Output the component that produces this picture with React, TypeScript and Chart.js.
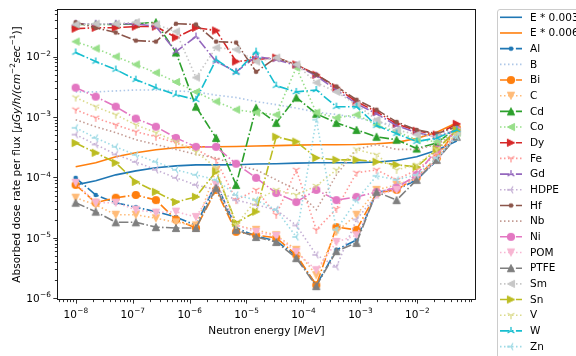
import React, { useEffect, useRef } from 'react';
import { Chart, registerables } from 'chart.js';
Chart.register(...registerables);

// ---- data ----
const energies = [1.0e-8, 2.25e-8, 5.07e-8, 1.14e-7, 2.57e-7, 5.78e-7, 1.3e-6, 2.93e-6, 6.59e-6, 1.48e-5, 3.34e-5, 7.52e-5, 1.69e-4, 3.81e-4, 8.59e-4, 1.93e-3, 4.35e-3, 9.8e-3, 2.21e-2, 4.96e-2];

const seriesNames = ['E * 0.003', 'E * 0.006', 'Al', 'B', 'Bi', 'C', 'Cd', 'Co', 'Dy', 'Fe', 'Gd', 'HDPE', 'Hf', 'Nb', 'Ni', 'POM', 'PTFE', 'Sm', 'Sn', 'V', 'W', 'Zn'];

const e003 = [7.5e-5, 8.8e-5, 1.1e-4, 1.28e-4, 1.44e-4, 1.55e-4, 1.61e-4, 1.61e-4, 1.62e-4, 1.66e-4, 1.68e-4, 1.72e-4, 1.74e-4, 1.74e-4, 1.75e-4, 1.8e-4, 1.9e-4, 2.2e-4, 2.8e-4, 4.0e-4];
const e006 = [1.5e-4, 1.75e-4, 2.2e-4, 2.55e-4, 2.87e-4, 3.1e-4, 3.2e-4, 3.22e-4, 3.25e-4, 3.3e-4, 3.35e-4, 3.42e-4, 3.46e-4, 3.47e-4, 3.5e-4, 3.6e-4, 3.8e-4, 4.4e-4, 5.6e-4, 8.0e-4];
const al = [9.8e-5, 5.1e-5, 3.8e-5, 3.2e-5, 2.7e-5, 2.2e-5, 1.6e-5, 8.1e-5, 1.45e-5, 1.07e-5, 8.8e-6, 5.0e-6, 1.64e-6, 6.3e-6, 9.2e-6, 5.7e-5, 6.2e-5, 9.1e-5, 1.9e-4, 5.1e-4];
const b = [2.6e-3, 2.6e-3, 2.7e-3, 2.8e-3, 2.8e-3, 2.7e-3, 2.6e-3, 2.3e-3, 2.1e-3, 1.8e-3, 1.6e-3, 1.4e-3, 1.2e-3, 1.1e-3, 9.7e-4, 8.3e-4, 7.2e-4, 5.9e-4, 5.1e-4, 6.6e-4];
const bi = [7.5e-5, 3.8e-5, 4.6e-5, 5.1e-5, 4.2e-5, 2.0e-5, 1.45e-5, 6.2e-5, 1.25e-5, 1.1e-5, 1.0e-5, 5.2e-6, 1.64e-6, 1.5e-5, 1.35e-5, 5.5e-5, 6.2e-5, 1.0e-4, 2.1e-4, 6.6e-4];
const c = [4.6e-5, 3.5e-5, 2.4e-5, 2.4e-5, 2.1e-5, 1.8e-5, 1.6e-5, 1.3e-4, 1.6e-5, 1.35e-5, 1.1e-5, 6.3e-6, 2.4e-6, 1.25e-5, 2.4e-5, 6.2e-5, 7.5e-5, 9.8e-5, 1.95e-4, 5.5e-4];
const cd = [3.4e-2, 3.4e-2, 3.4e-2, 3.5e-2, 3.7e-2, 1.17e-2, 1.48e-3, 4.5e-4, 7.5e-5, 1.42e-3, 8.0e-4, 2.1e-3, 1.13e-3, 8.0e-4, 6.1e-4, 4.7e-4, 4.2e-4, 3.0e-4, 3.7e-4, 6.6e-4];
const co = [1.77e-2, 1.36e-2, 1.0e-2, 7.4e-3, 5.4e-3, 3.8e-3, 2.6e-3, 1.8e-3, 1.32e-3, 1.18e-3, 1.09e-3, 6.6e-3, 1.18e-3, 9.7e-4, 1.09e-3, 7.4e-4, 5.7e-4, 4.2e-4, 3.9e-4, 5.5e-4];
const dy = [2.9e-2, 3.0e-2, 3.0e-2, 3.15e-2, 3.15e-2, 2.07e-2, 3.0e-2, 2.7e-2, 8.3e-3, 8.9e-3, 9.6e-3, 7.4e-3, 5.0e-3, 3.06e-3, 1.79e-3, 1.22e-3, 7.7e-4, 5.9e-4, 5.1e-4, 7.7e-4];
const fe = [1.32e-3, 9.7e-4, 7.4e-4, 5.7e-4, 4.7e-4, 3.7e-4, 2.9e-4, 1.95e-4, 4.2e-5, 6.2e-5, 2.4e-5, 1.33e-4, 1.35e-5, 3.0e-5, 1.19e-4, 1.33e-4, 9.1e-5, 1.33e-4, 2.4e-4, 5.1e-4];
const gd = [3.5e-2, 3.5e-2, 3.5e-2, 3.5e-2, 3.15e-2, 1.21e-2, 2.15e-2, 8.3e-3, 5.6e-3, 1.0e-2, 8.9e-3, 7.1e-3, 4.8e-3, 2.8e-3, 1.66e-3, 1.13e-3, 7.2e-4, 5.5e-4, 4.7e-4, 6.1e-4];
const hdpe = [5.1e-4, 3.5e-4, 2.4e-4, 1.8e-4, 1.33e-4, 9.8e-5, 7.5e-5, 6.2e-5, 4.2e-5, 3.5e-5, 2.9e-5, 1.6e-5, 5.2e-6, 3.3e-6, 2.0e-5, 5.1e-5, 7.5e-5, 9.8e-5, 1.95e-4, 4.7e-4];
const hf = [3.7e-2, 3.0e-2, 2.5e-2, 1.84e-2, 1.77e-2, 3.5e-2, 3.4e-2, 1.77e-2, 1.71e-2, 5.6e-3, 9.6e-3, 7.4e-3, 5.0e-3, 3.2e-3, 1.93e-3, 1.32e-3, 8.3e-4, 6.1e-4, 5.3e-4, 6.9e-4];
const nb = [9.0e-4, 6.9e-4, 5.5e-4, 4.2e-4, 3.5e-4, 2.9e-4, 2.4e-4, 2.1e-4, 1.6e-4, 1.33e-4, 9.1e-5, 6.2e-5, 2.9e-5, 1.1e-4, 2.9e-4, 3.5e-4, 2.9e-4, 2.9e-4, 3.5e-4, 5.5e-4];
const ni = [3.06e-3, 2.17e-3, 1.48e-3, 9.4e-4, 6.9e-4, 4.5e-4, 3.2e-4, 3.2e-4, 1.68e-4, 9.8e-5, 5.5e-5, 3.9e-5, 6.2e-5, 4.2e-5, 4.75e-5, 5.7e-5, 6.7e-5, 1.1e-4, 2.9e-4, 6.1e-4];
const pom = [8.1e-5, 3.8e-5, 3.8e-5, 2.9e-5, 2.6e-5, 2.7e-5, 2.2e-5, 7.5e-5, 1.63e-5, 1.25e-5, 1.07e-5, 5.8e-6, 2.9e-6, 8.5e-6, 1.1e-5, 5.1e-5, 6.2e-5, 9.8e-5, 1.95e-4, 5.1e-4];
const ptfe = [3.8e-5, 2.7e-5, 1.8e-5, 1.8e-5, 1.5e-5, 1.45e-5, 1.45e-5, 6.7e-5, 1.35e-5, 1.03e-5, 8.5e-6, 4.6e-6, 1.58e-6, 6.0e-6, 8.2e-6, 5.75e-5, 4.2e-5, 9.1e-5, 1.95e-4, 4.7e-4];
const sm = [3.4e-2, 3.5e-2, 3.5e-2, 3.7e-2, 3.4e-2, 2.6e-2, 4.5e-3, 1.41e-2, 1.31e-2, 8.3e-3, 9.6e-3, 7.4e-3, 3.7e-3, 2.6e-3, 1.6e-3, 9.0e-4, 6.1e-4, 5.1e-4, 4.7e-4, 5.7e-4];
const sn = [3.7e-4, 2.55e-4, 1.74e-4, 8.4e-5, 5.75e-5, 3.9e-5, 4.75e-5, 1.25e-4, 1.76e-5, 2.7e-5, 4.7e-4, 3.9e-4, 2.1e-4, 1.95e-4, 1.95e-4, 1.81e-4, 1.61e-4, 1.49e-4, 2.9e-4, 6.1e-4];
const v = [2.1e-3, 1.48e-3, 1.09e-3, 7.4e-4, 5.5e-4, 3.9e-4, 2.65e-4, 1.44e-4, 1.63e-5, 4.2e-5, 6.2e-5, 5.1e-5, 7.2e-5, 1.33e-4, 2.9e-4, 2.36e-4, 1.33e-4, 1.61e-4, 2.9e-4, 5.1e-4];
const w = [1.17e-2, 8.3e-3, 6.1e-3, 4.15e-3, 3.06e-3, 2.34e-3, 1.93e-3, 8.9e-3, 5.4e-3, 1.21e-2, 3.3e-3, 2.6e-3, 2.8e-3, 1.48e-3, 1.48e-3, 7.2e-4, 5.3e-4, 3.9e-4, 4.5e-4, 6.1e-4];
const zn = [6.6e-4, 4.5e-4, 3.2e-4, 2.36e-4, 1.81e-4, 1.33e-4, 1.1e-4, 9.1e-5, 5.1e-5, 4.2e-5, 2.9e-5, 1.03e-5, 9.0e-4, 1.35e-5, 4.2e-5, 1.06e-4, 9.1e-5, 1.1e-4, 2.1e-4, 4.7e-4];

const seriesValues = [e003, e006, al, b, bi, c, cd, co, dy, fe, gd, hdpe, hf, nb, ni, pom, ptfe, sm, sn, v, w, zn];

const xTickExps = [-8, -7, -6, -5, -4, -3, -2];
const yTickExps = [-6, -5, -4, -3, -2];

// ---- styles ----
const SOLID: number[] = [];
const DASHDOT = [9.6, 2.4, 1.5, 2.4];
const DOTTED = [1.5, 2.5];
const styles: { color: string; marker: string; dash: number[] }[] = [
  { color: '#1f77b4', marker: 'none', dash: SOLID },
  { color: '#ff7f0e', marker: 'none', dash: SOLID },
  { color: '#1f77b4', marker: '.', dash: DASHDOT },
  { color: '#aec7e8', marker: 'none', dash: DOTTED },
  { color: '#ff7f0e', marker: 'o', dash: DASHDOT },
  { color: '#ffbb78', marker: 'v', dash: DOTTED },
  { color: '#2ca02c', marker: '^', dash: DASHDOT },
  { color: '#98df8a', marker: '<', dash: DOTTED },
  { color: '#d62728', marker: '>', dash: DASHDOT },
  { color: '#ff9896', marker: '1', dash: DOTTED },
  { color: '#9467bd', marker: '2', dash: DASHDOT },
  { color: '#c5b0d5', marker: '3', dash: DOTTED },
  { color: '#8c564b', marker: '.', dash: DASHDOT },
  { color: '#c49c94', marker: 'none', dash: DOTTED },
  { color: '#e377c2', marker: 'o', dash: DASHDOT },
  { color: '#f7b6d2', marker: 'v', dash: DOTTED },
  { color: '#7f7f7f', marker: '^', dash: DASHDOT },
  { color: '#c7c7c7', marker: '<', dash: DOTTED },
  { color: '#bcbd22', marker: '>', dash: DASHDOT },
  { color: '#dbdb8d', marker: '1', dash: DOTTED },
  { color: '#17becf', marker: '2', dash: DASHDOT },
  { color: '#9edae5', marker: '3', dash: DOTTED },
];

const FONT = '"DejaVu Sans", "Liberation Sans", sans-serif';
const FS = 10.5;

function makeMarker(kind: string, color: string): HTMLCanvasElement | null {
  if (kind === 'none') return null;
  const S = 12;
  const cv = document.createElement('canvas');
  cv.width = S;
  cv.height = S;
  const g = cv.getContext('2d')!;
  const cx = S / 2, cy = S / 2;
  g.fillStyle = color;
  g.strokeStyle = color;
  g.lineWidth = 1;
  const poly = (pts: number[][]) => {
    g.beginPath();
    g.moveTo(cx + pts[0][0], cy + pts[0][1]);
    for (let i = 1; i < pts.length; i++) g.lineTo(cx + pts[i][0], cy + pts[i][1]);
    g.closePath();
    g.fill();
    g.stroke();
  };
  const spokes = (pts: number[][]) => {
    g.lineWidth = 1.3;
    g.beginPath();
    for (const p of pts) {
      g.moveTo(cx, cy);
      g.lineTo(cx + p[0], cy + p[1]);
    }
    g.stroke();
  };
  const r = 3.6;
  const t = 4.0;
  switch (kind) {
    case '.':
      g.beginPath(); g.arc(cx, cy, 2.3, 0, Math.PI * 2); g.fill(); break;
    case 'o':
      g.beginPath(); g.arc(cx, cy, 4.1, 0, Math.PI * 2); g.fill(); break;
    case '^': poly([[0, -r], [-r, r], [r, r]]); break;
    case 'v': poly([[0, r], [-r, -r], [r, -r]]); break;
    case '<': poly([[-r, 0], [r, -r], [r, r]]); break;
    case '>': poly([[r, 0], [-r, -r], [-r, r]]); break;
    case '1': spokes([[0, t], [-0.866 * t, -0.5 * t], [0.866 * t, -0.5 * t]]); break;
    case '2': spokes([[0, -t], [-0.866 * t, 0.5 * t], [0.866 * t, 0.5 * t]]); break;
    case '3': spokes([[-t, 0], [0.5 * t, -0.866 * t], [0.5 * t, 0.866 * t]]); break;
  }
  return cv;
}

function drawPow(ctx: CanvasRenderingContext2D, exp: number, x: number, base: number, align: 'center' | 'right') {
  const main = '10';
  const sup = '\u2212' + String(Math.abs(exp));
  ctx.font = `${FS}px ${FONT}`;
  const w1 = ctx.measureText(main).width;
  ctx.font = `${FS * 0.7}px ${FONT}`;
  const w2 = ctx.measureText(sup).width;
  const total = w1 + w2;
  const x0 = align === 'center' ? x - total / 2 : x - total;
  ctx.textAlign = 'left';
  ctx.textBaseline = 'alphabetic';
  ctx.font = `${FS}px ${FONT}`;
  ctx.fillText(main, x0, base);
  ctx.font = `${FS * 0.7}px ${FONT}`;
  ctx.fillText(sup, x0 + w1 + 0.3, base - 4.6);
}

type Seg = { t: string; it?: boolean; sup?: boolean };
function drawSegs(ctx: CanvasRenderingContext2D, segs: Seg[], cx: number, base: number) {
  const fontOf = (s: Seg) => `${s.it ? 'italic ' : ''}${s.sup ? FS * 0.7 : FS}px ${FONT}`;
  let total = 0;
  const ws = segs.map((s) => {
    ctx.font = fontOf(s);
    const wd = ctx.measureText(s.t).width;
    total += wd;
    return wd;
  });
  let x = cx - total / 2;
  ctx.textAlign = 'left';
  ctx.textBaseline = 'alphabetic';
  segs.forEach((s, i) => {
    ctx.font = fontOf(s);
    ctx.fillText(s.t, x, s.sup ? base - 4.6 : base);
    x += ws[i];
  });
}

const ySegs: Seg[] = [
  { t: 'Absorbed dose rate per flux [' },
  { t: '\u03bcGy/h/(cm', it: true },
  { t: '\u22122', sup: true },
  { t: 'sec', it: true },
  { t: '\u22121', sup: true },
  { t: ')]' },
];
const xSegs: Seg[] = [{ t: 'Neutron energy [' }, { t: 'MeV', it: true }, { t: ']' }];

export default function App() {
  const ref = useRef<HTMLCanvasElement>(null);
  useEffect(() => {
    const markers = styles.map((s) => makeMarker(s.marker, s.color));
    const n = seriesNames.length;
    const datasets = seriesNames.map((name, idx) => ({
      label: name,
      data: seriesValues[idx].map((val, i) => ({ x: energies[i], y: val })),
      borderColor: styles[idx].color,
      backgroundColor: styles[idx].color,
      borderWidth: 1.6,
      borderDash: styles[idx].dash,
      pointStyle: (markers[idx] || 'circle') as any,
      pointRadius: markers[idx] ? 3 : 0,
      pointHoverRadius: 0,
      fill: false,
      tension: 0,
      order: n - idx,
    }));

    const mplPlugin = {
      id: 'mplAxes',
      afterDraw(chart: any) {
        const { ctx, chartArea: a, scales } = chart;
        const xs = scales.x, ys = scales.y;
        ctx.save();
        ctx.fillStyle = '#000';
        ctx.strokeStyle = '#000';
        // frame
        ctx.lineWidth = 0.9;
        ctx.strokeRect(a.left + 0.5, a.top + 0.5, a.right - a.left - 1, a.bottom - a.top - 1);
        // ticks
        ctx.lineWidth = 0.8;
        ctx.beginPath();
        for (let e = -9; e <= -1; e++) {
          for (let m = 1; m <= 9; m++) {
            const val = m * Math.pow(10, e);
            const px = xs.getPixelForValue(val);
            if (px < a.left || px > a.right) continue;
            if (m === 1 && !xTickExps.includes(e)) continue;
            const len = m === 1 ? 3.7 : 2.1;
            ctx.moveTo(Math.round(px) + 0.5, a.bottom);
            ctx.lineTo(Math.round(px) + 0.5, a.bottom + len);
          }
        }
        for (let e = -7; e <= -1; e++) {
          for (let m = 1; m <= 9; m++) {
            const val = m * Math.pow(10, e);
            const py = ys.getPixelForValue(val);
            if (py < a.top || py > a.bottom) continue;
            const len = m === 1 ? 3.7 : 2.1;
            ctx.moveTo(a.left, Math.round(py) + 0.5);
            ctx.lineTo(a.left - len, Math.round(py) + 0.5);
          }
        }
        ctx.stroke();
        // tick labels
        for (const e of xTickExps) {
          const px = xs.getPixelForValue(Math.pow(10, e));
          drawPow(ctx, e, px, a.bottom + 17.7, 'center');
        }
        for (const e of yTickExps) {
          const py = ys.getPixelForValue(Math.pow(10, e));
          drawPow(ctx, e, a.left - 6.5, py + 3.8, 'right');
        }
        // axis titles
        drawSegs(ctx, xSegs, (a.left + a.right) / 2, 333.5);
        ctx.save();
        ctx.translate(20, (a.top + a.bottom) / 2);
        ctx.rotate(-Math.PI / 2);
        drawSegs(ctx, ySegs, 0, 0);
        ctx.restore();

        // legend
        const lx = 497.5, ly = 9.5;
        ctx.fillStyle = '#fff';
        ctx.strokeStyle = '#cccccc';
        ctx.lineWidth = 1;
        ctx.beginPath();
        const rr = 2.5, bw = 120, bh = 400;
        ctx.moveTo(lx + rr, ly);
        ctx.lineTo(lx + bw - rr, ly);
        ctx.lineTo(lx + bw, ly + bh);
        ctx.lineTo(lx, ly + bh);
        ctx.lineTo(lx, ly + rr);
        ctx.quadraticCurveTo(lx, ly, lx + rr, ly);
        ctx.closePath();
        ctx.fill();
        ctx.stroke();
        seriesNames.forEach((name, i) => {
          const y = 17.3 + 15.68 * i;
          const st = styles[i];
          ctx.strokeStyle = st.color;
          ctx.lineWidth = 1.6;
          ctx.setLineDash(st.dash);
          ctx.beginPath();
          ctx.moveTo(500, y);
          ctx.lineTo(522, y);
          ctx.stroke();
          ctx.setLineDash([]);
          const mk = markers[i];
          if (mk) ctx.drawImage(mk, 511 - mk.width / 2, y - mk.height / 2);
          ctx.fillStyle = '#000';
          ctx.font = `${FS}px ${FONT}`;
          ctx.textAlign = 'left';
          ctx.textBaseline = 'middle';
          ctx.fillText(name, 530, y + 0.5);
        });
        ctx.restore();
      },
    };

    const chart = new Chart(ref.current!, {
      type: 'line',
      data: { datasets: datasets as any },
      options: {
        responsive: false,
        animation: false,
        events: [],
        layout: { padding: { left: 57, right: 100, top: 9, bottom: 56 } },
        plugins: { legend: { display: false }, tooltip: { enabled: false } },
        scales: {
          x: { type: 'logarithmic', display: false, min: 4.7e-9, max: 0.108 },
          y: { type: 'logarithmic', display: false, min: 9.3e-7, max: 0.0614 },
        },
      },
      plugins: [mplPlugin],
    });
    return () => chart.destroy();
  }, []);

  return (
    <div style={{ position: 'fixed', left: 0, top: 0, width: 576, height: 356, background: '#fff' }}>
      <canvas ref={ref} width={576} height={356} style={{ width: 576, height: 356, display: 'block' }} />
    </div>
  );
}
